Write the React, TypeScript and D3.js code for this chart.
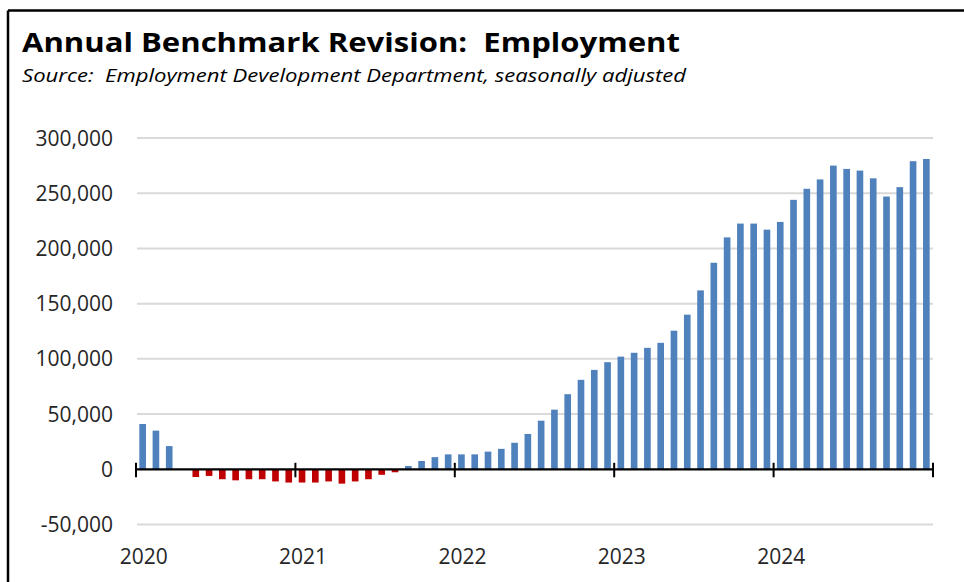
import React from "react";
import * as d3 from "d3";

const months: string[] = [];
for (let y = 2020; y <= 2024; y++) for (let m = 1; m <= 12; m++) months.push(`${y}-${String(m).padStart(2, "0")}`);

const revision: number[] = [
  41000, 35000, 21000, 0, -7000, -6000, -9000, -10000, -9000, -9000, -11000, -12000,
  -12000, -12000, -11000, -13000, -11000, -9000, -5000, -2700, 3000, 7500, 11000, 13500,
  13500, 13500, 16000, 18500, 24000, 32000, 44000, 54000, 68000, 81000, 90000, 97000,
  102000, 105500, 110000, 114500, 125500, 140000, 162000, 187000, 210000, 222500, 222500, 217000,
  224000, 244000, 254000, 262500, 275000, 272000, 270500, 263500, 247000, 255500, 279000, 281000,
];

const yTicks: number[] = [-50000, 0, 50000, 100000, 150000, 200000, 250000, 300000];
const yearLabels: string[] = ["2020", "2021", "2022", "2023", "2024"];

const title = "Annual Benchmark Revision:  Employment";
const subtitle = "Source:  Employment Development Department, seasonally adjusted";

const W = 964;
const H = 582;
const X0 = 136;
const X1 = 933;

export default function App() {
  const x = d3.scaleBand<string>().domain(months).range([X0, X1]).paddingInner(0.5).paddingOuter(0.25);
  const xi = d3.scaleLinear().domain([0, months.length]).range([X0, X1]);
  const y = d3.scaleLinear().domain([-50000, 300000]).range([524.5, 138]);
  const fmt = (v: number) => d3.format(",")(v).replace("\u2212", "-");
  const font = "'Open Sans', 'Noto Sans', sans-serif";
  const y0 = y(0);

  return (
    <svg width={W} height={H} style={{ position: "absolute", left: 0, top: 0, background: "#fff" }}>
      <rect x={0} y={0} width={W} height={H} fill="#fff" />
      {/* frame */}
      <line x1={8} y1={10.5} x2={W} y2={10.5} stroke="#000" strokeWidth={2.5} />
      <line x1={8} y1={10.5} x2={8} y2={H} stroke="#000" strokeWidth={2.5} />

      <text x={22} y={52} fontFamily={font} fontWeight={700} fontSize={27} fill="#000"
        textLength={658} lengthAdjust="spacingAndGlyphs" style={{ whiteSpace: "pre" }}>{title}</text>
      <text x={22} y={82} fontFamily={font} fontStyle="italic" fontSize={18} fill="#000"
        textLength={664} lengthAdjust="spacingAndGlyphs" style={{ whiteSpace: "pre" }}>{subtitle}</text>

      {/* gridlines */}
      {yTicks.filter((t) => t !== 0).map((t) => (
        <line key={t} x1={X0 + 1} x2={X1} y1={y(t)} y2={y(t)} stroke="#d9d9d9" strokeWidth={2} />
      ))}
      {/* y labels */}
      {yTicks.map((t) => (
        <text key={t} x={113} y={y(t)} dy="0.36em" textAnchor="end" fontFamily={font} fontSize={21} fill="#262626">
          {fmt(t)}
        </text>
      ))}

      {/* bars */}
      {revision.map((v, i) => (
        v === 0 ? null : (
          <rect key={months[i]} x={x(months[i])} width={x.bandwidth()}
            y={Math.min(y(v), y0)} height={Math.abs(y(v) - y0)}
            fill={v < 0 ? "#c00000" : "#4f81bd"} />
        )
      ))}

      {/* zero axis */}
      <line x1={X0} x2={X1} y1={y0} y2={y0} stroke="#000" strokeWidth={2.2} />
      {d3.range(0, months.length + 1, 12).map((i) => (
        <line key={i} x1={xi(i)} x2={xi(i)} y1={y0 - 6.5} y2={y0 + 8} stroke="#000" strokeWidth={2} />
      ))}
      {yearLabels.map((lab, k) => {
        const m = months[k * 12];
        return (
          <text key={lab} x={(x(m) as number) + x.bandwidth() / 2 + 1} y={564} textAnchor="middle"
            fontFamily={font} fontSize={21} fill="#262626">{lab}</text>
        );
      })}
    </svg>
  );
}
